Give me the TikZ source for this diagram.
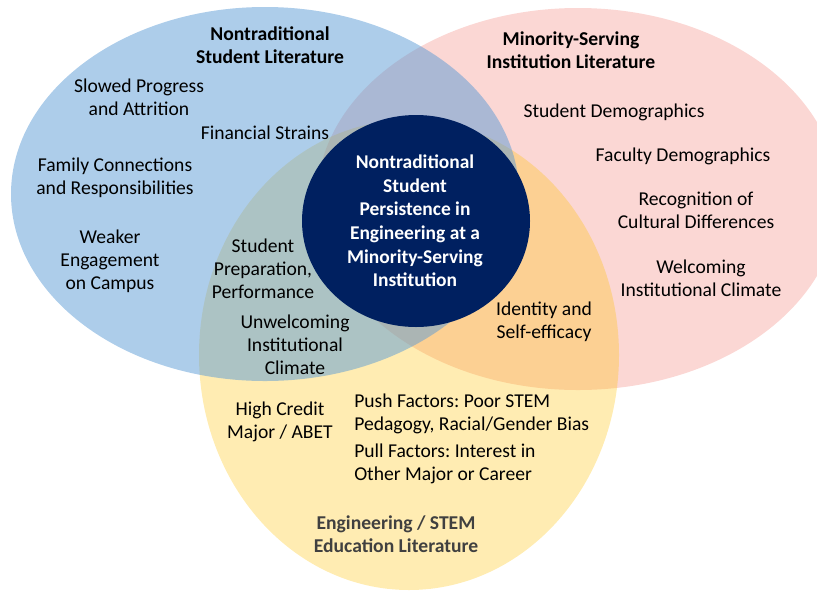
\documentclass[tikz,border=0pt]{standalone}
\usepackage{fontspec}
\setmainfont{Carlito}
\frenchspacing
\definecolor{msipink}{RGB}{251,215,212}
\definecolor{engyellow}{RGB}{255,192,0}
\definecolor{ntblue}{RGB}{91,155,213}
\definecolor{corenavy}{RGB}{0,32,96}
\definecolor{labelgray}{RGB}{64,64,64}
\begin{document}
\begin{tikzpicture}[x=0.75pt,y=-0.75pt,
  lbl/.style={align=center, text=black, inner sep=0pt,
    font=\fontsize{14.7}{17.25}\selectfont},
  hdr/.style={lbl, font=\bfseries\fontsize{14.7}{17.25}\selectfont},
  lefttxt/.style={lbl, align=left, anchor=west},
]
\useasboundingbox (0,0) rectangle (817,594);
\clip (0,0) rectangle (817,594);

% literature sets
\fill[msipink] (578,199) ellipse [x radius=261, y radius=191];
\fill[engyellow, fill opacity=0.3] (409,355) ellipse [x radius=210, y radius=235];
\fill[ntblue, fill opacity=0.5] (265,194) ellipse [x radius=254, y radius=187];

% core topic
\fill[corenavy] (416,221) ellipse [x radius=114, y radius=106];
\node[hdr, text=white, font=\bfseries\fontsize{14.6}{17.7}\selectfont] (core) at (415,221)
  {Nontraditional\\Student\\Persistence in\\Engineering at a\\Minority-Serving\\Institution};

% nontraditional student literature
\node[hdr] (ntitle) at (270,45) {Nontraditional\\Student Literature};
\node[lbl] (slowed) at (139,97) {Slowed Progress\\and Attrition};
\node[lbl] (financial) at (265,133) {Financial Strains};
\node[lbl] (family) at (115,178) {Family Connections\\and Responsibilities};
\node[lbl] (weaker) at (110,261) {Weaker\\Engagement\\on Campus};
\node[lbl] (prep) at (263,269) {Student\\Preparation,\\Performance};
\node[lbl] (unwelcome) at (295,345) {Unwelcoming\\Institutional\\Climate};

% minority-serving institution literature
\node[hdr] (mtitle) at (571,50) {Minority-Serving\\Institution Literature};
\node[lbl] (studdemo) at (614,112) {Student Demographics};
\node[lbl] (facdemo) at (683,156) {Faculty Demographics};
\node[lbl] (cultural) at (696,210) {Recognition of\\Cultural Differences};
\node[lbl] (welcome) at (701,278) {Welcoming\\Institutional Climate};
\node[lbl] (identity) at (544,322) {Identity and\\Self-efficacy};

% engineering / STEM education literature
\node[lbl] (credit) at (280,422) {High Credit\\Major / ABET};
\node[lefttxt] (push) at (354,414) {Push Factors: Poor STEM\\Pedagogy, Racial/Gender Bias};
\node[lefttxt] (pull) at (354,464) {Pull Factors: Interest in\\Other Major or Career};
\node[hdr, text=labelgray] (etitle) at (396,534) {Engineering / STEM\\Education Literature};
\end{tikzpicture}
\end{document}
